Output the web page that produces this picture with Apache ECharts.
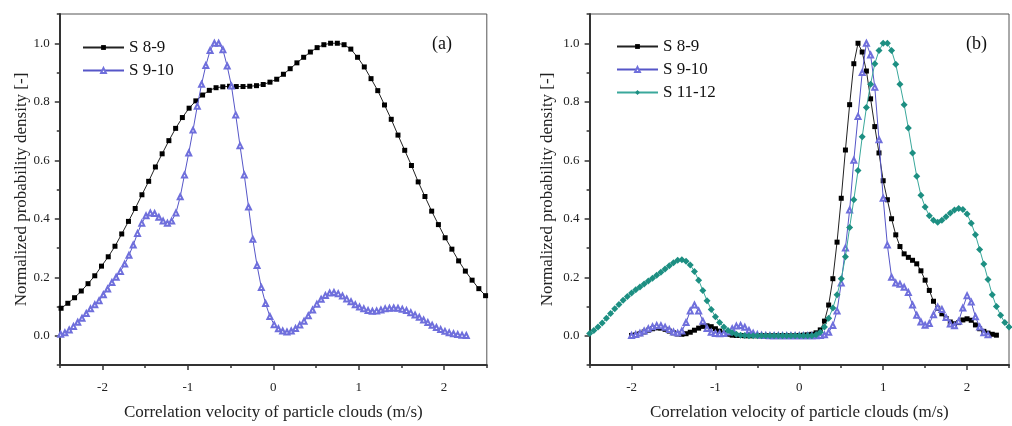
<!DOCTYPE html>
<html><head><meta charset="utf-8">
<script src="https://cdn.jsdelivr.net/npm/echarts@6/dist/echarts.min.js"></script>
<style>html,body{margin:0;padding:0;background:#fff}#c{width:1012px;height:426px}</style>
</head><body><div id="c"></div>
<script>
// ---------- DATA ----------
const seriesNames = ['S 8-9', 'S 9-10', 'S 11-12'];
const xTickLabels = ['-2', '-1', '0', '1', '2'];
const xMajorTicks = [-2, -1, 0, 1, 2];
const xMinorTicks = [-2.5, -1.5, -0.5, 0.5, 1.5, 2.5];
const yTickLabels = ['0.0', '0.2', '0.4', '0.6', '0.8', '1.0'];
const yMajorTicks = [0, 0.2, 0.4, 0.6, 0.8, 1.0];
const yMinorTicks = [-0.1, 0.1, 0.3, 0.5, 0.7, 0.9, 1.1];

// Panel (a) S 8-9 : samples starting at x=-2.485, spacing 0.0789
const a89Start = -2.485, a89Step = 0.0789;
const a89 = [0.094,0.111,0.130,0.153,0.178,0.205,0.238,0.270,0.306,0.348,
  0.391,0.435,0.482,0.528,0.577,0.622,0.667,0.709,0.746,0.778,
  0.803,0.823,0.839,0.848,0.851,0.853,0.852,0.852,0.853,0.855,
  0.859,0.867,0.877,0.894,0.913,0.933,0.952,0.970,0.985,0.995,
  1.000,1.000,0.995,0.980,0.952,0.919,0.879,0.838,0.789,0.740,
  0.686,0.634,0.582,0.526,0.476,0.426,0.380,0.335,0.296,0.256,
  0.221,0.190,0.161,0.137];

// Panel (a) S 9-10 : samples starting at x=-2.49, spacing 0.05
const a910Start = -2.49, a910Step = 0.05;
const a910 = [0.005,0.010,0.020,0.032,0.046,0.060,0.076,0.092,0.106,0.120,
  0.140,0.160,0.182,0.200,0.220,0.245,0.275,0.310,0.350,0.385,
  0.410,0.420,0.418,0.405,0.392,0.385,0.392,0.420,0.475,0.550,
  0.625,0.703,0.785,0.860,0.924,0.975,1.000,1.000,0.978,0.922,
  0.854,0.755,0.650,0.550,0.440,0.330,0.240,0.165,0.110,0.066,
  0.038,0.024,0.016,0.013,0.016,0.025,0.037,0.050,0.068,0.088,
  0.108,0.125,0.138,0.146,0.148,0.144,0.136,0.126,0.116,0.106,
  0.098,0.092,0.086,0.084,0.085,0.088,0.092,0.094,0.095,0.094,
  0.091,0.086,0.079,0.071,0.063,0.054,0.045,0.036,0.028,0.021,
  0.015,0.010,0.007,0.004,0.002,0.001];

// Panel (b) S 8-9 : from x=-2.0, spacing 0.05
const b89Start = -2.0, b89Step = 0.05;
const b89 = [0.001,0.003,0.007,0.013,0.019,0.024,0.027,0.026,0.022,0.016,
  0.010,0.006,0.005,0.007,0.012,0.019,0.026,0.032,0.034,0.031,
  0.024,0.016,0.009,0.005,0.002,0.001,0.001,0,0,0,
  0,0,0,0,0,0,0,0,0,0,
  0.001,0.002,0.003,0.005,0.010,0.020,0.050,0.105,0.195,0.320,
  0.470,0.635,0.790,0.930,1.000,0.970,0.905,0.810,0.715,0.625,
  0.530,0.465,0.400,0.345,0.305,0.280,0.268,0.258,0.246,0.222,
  0.190,0.155,0.118,0.094,0.075,0.059,0.047,0.041,0.045,0.054,
  0.058,0.053,0.037,0.024,0.015,0.009,0.005,0.002];

// Panel (b) S 9-10 : from x=-2.0, spacing 0.05
const b910Start = -2.0, b910Step = 0.05;
const b910 = [0.001,0.004,0.009,0.016,0.024,0.031,0.035,0.034,0.029,0.021,
  0.013,0.009,0.016,0.045,0.085,0.105,0.085,0.050,0.025,0.012,
  0.008,0.007,0.008,0.013,0.024,0.033,0.035,0.029,0.018,0.009,
  0.004,0.002,0.001,0,0,0,0,0,0,0,
  0,0,0,0,0,0.001,0.003,0.012,0.035,0.085,
  0.180,0.300,0.430,0.600,0.750,0.900,1.000,0.960,0.850,0.670,
  0.470,0.310,0.200,0.180,0.176,0.166,0.148,0.105,0.070,0.047,
  0.036,0.042,0.072,0.098,0.090,0.062,0.040,0.034,0.050,0.095,
  0.137,0.115,0.065,0.030,0.010,0.003];

// Panel (b) S 11-12 : from x=-2.5, spacing 0.05
const b1112Start = -2.5, b1112Step = 0.05;
const b1112 = [0.008,0.018,0.030,0.044,0.060,0.076,0.092,0.107,0.121,0.134,
  0.146,0.157,0.167,0.177,0.187,0.197,0.207,0.217,0.228,0.239,
  0.250,0.258,0.260,0.255,0.242,0.220,0.190,0.155,0.120,0.090,
  0.065,0.045,0.030,0.018,0.010,0.005,0.002,0.001,0,0,
  0,0,0,0,0,0,0,0,0,0,
  0,0,0,0,0.003,0.012,0.030,0.060,0.095,0.140,
  0.195,0.270,0.370,0.465,0.565,0.680,0.780,0.860,0.930,0.975,
  1.000,1.000,0.975,0.928,0.860,0.790,0.710,0.625,0.545,0.480,
  0.440,0.410,0.395,0.388,0.395,0.407,0.420,0.430,0.435,0.432,
  0.416,0.385,0.345,0.295,0.245,0.192,0.140,0.100,0.070,0.045,
  0.030];

// ---------- CHART ----------
function pairs(start, step, ys) {
  return ys.map((y, i) => [Math.round((start + i * step) * 10000) / 10000, y]);
}
const FONT = "'Liberation Serif','Times New Roman',serif";
const AX = '#333';
const C89 = '#000000', C910 = '#6f6fdc', C910L = '#5656c8', C1112 = '#1d8f82', C1112L = '#3aa89b';

function xAx(gi) {
  return {
    type: 'value', gridIndex: gi, min: -2.5, max: 2.5, interval: 0.5, position: 'bottom',
    axisLine: { onZero: false, lineStyle: { color: AX, width: 2 } },
    axisTick: { inside: false, length: 5, customValues: xMajorTicks, lineStyle: { color: AX, width: 1.5 } },
    splitLine: { show: false },
    axisLabel: {
      margin: 16, fontSize: 13, fontFamily: FONT, color: '#222',
      formatter: v => {
        const r = Math.round(v);
        if (Math.abs(v - r) > 1e-6) return '';
        const idx = xMajorTicks.indexOf(r);
        return idx >= 0 ? xTickLabels[idx] : '';
      }
    },
    name: 'Correlation velocity of particle clouds (m/s)',
    nameLocation: 'middle', nameGap: 39,
    nameTextStyle: { fontSize: 17, fontFamily: FONT, color: '#222' }
  };
}
function xMinor(gi) {
  return {
    type: 'value', gridIndex: gi, min: -2.5, max: 2.5, interval: 0.5, position: 'bottom',
    axisLine: { show: false, onZero: false }, axisLabel: { show: false }, splitLine: { show: false },
    axisTick: { show: true, inside: false, length: 3, customValues: xMinorTicks, lineStyle: { color: AX, width: 1.5 } }
  };
}
function yAx(gi, gap) {
  return {
    type: 'value', gridIndex: gi, min: -0.1, max: 1.1, interval: 0.1, position: 'left',
    axisLine: { onZero: false, lineStyle: { color: AX, width: 2 } },
    axisTick: { inside: false, length: 5, customValues: yMajorTicks, lineStyle: { color: AX, width: 1.5 } },
    splitLine: { show: false },
    axisLabel: {
      margin: 10, fontSize: 13, fontFamily: FONT, color: '#222',
      formatter: v => {
        const r = Math.round(v * 10);
        if (r < 0 || r > 10 || r % 2 !== 0) return '';
        return yTickLabels[r / 2];
      }
    },
    name: 'Normalized probability density [-]',
    nameLocation: 'middle', nameGap: gap,
    nameTextStyle: { fontSize: 17, fontFamily: FONT, color: '#222' }
  };
}
function yMinor(gi) {
  return {
    type: 'value', gridIndex: gi, min: -0.1, max: 1.1, interval: 0.1, position: 'left',
    axisLine: { show: false, onZero: false }, axisLabel: { show: false }, splitLine: { show: false },
    axisTick: { show: true, inside: false, length: 3, customValues: yMinorTicks, lineStyle: { color: AX, width: 1.5 } }
  };
}
function s89(gi, data) {
  return { type: 'line', name: seriesNames[0], xAxisIndex: gi, yAxisIndex: gi, data,
    symbol: 'rect', symbolSize: 5, lineStyle: { color: '#222', width: 1 },
    itemStyle: { color: C89 }, z: 3 };
}
function s910(gi, data) {
  return { type: 'line', name: seriesNames[1], xAxisIndex: gi, yAxisIndex: gi, data,
    symbol: 'emptyTriangle', symbolSize: 5, lineStyle: { color: C910L, width: 1 },
    itemStyle: { color: C910, borderWidth: 1 }, z: 4 };
}
const legendText = { fontSize: 17, fontFamily: FONT, color: '#111' };
const option = {
  animation: false,
  backgroundColor: '#fff',
  grid: [
    { left: 59.8, top: 14, width: 427, height: 357, show: true, borderColor: '#555', borderWidth: 1 },
    { left: 589.6, top: 14, width: 427.4, height: 357, show: true, borderColor: '#555', borderWidth: 1 }
  ],
  xAxis: [xAx(0), xAx(1), xMinor(0), xMinor(1)],
  yAxis: [yAx(0, 30), yAx(1, 34), yMinor(0), yMinor(1)],
  title: [
    { text: '(a)', left: 432, top: 35, padding: 0, textStyle: { fontSize: 18, fontWeight: 'normal', fontFamily: FONT, color: '#111' } },
    { text: '(b)', left: 966, top: 35, padding: 0, textStyle: { fontSize: 18, fontWeight: 'normal', fontFamily: FONT, color: '#111' } }
  ],
  legend: [
    { data: [seriesNames[0], seriesNames[1]], orient: 'vertical', left: 82, top: 39, padding: 0,
      itemWidth: 41, itemHeight: 6, itemGap: 6, selectedMode: false, textStyle: legendText },
    { data: seriesNames.slice(), orient: 'vertical', left: 616, top: 38, padding: 0,
      itemWidth: 41, itemHeight: 6, itemGap: 6, selectedMode: false, textStyle: legendText }
  ],
  series: [
    s89(0, pairs(a89Start, a89Step, a89)),
    s910(0, pairs(a910Start, a910Step, a910)),
    s89(1, pairs(b89Start, b89Step, b89)),
    s910(1, pairs(b910Start, b910Step, b910)),
    { type: 'line', name: seriesNames[2], xAxisIndex: 1, yAxisIndex: 1, data: pairs(b1112Start, b1112Step, b1112),
      symbol: 'diamond', symbolSize: 7, lineStyle: { color: C1112L, width: 1 },
      itemStyle: { color: C1112 }, z: 5 }
  ]
};
echarts.init(document.getElementById('c'), null, { renderer: 'canvas' }).setOption(option);
</script></body></html>
